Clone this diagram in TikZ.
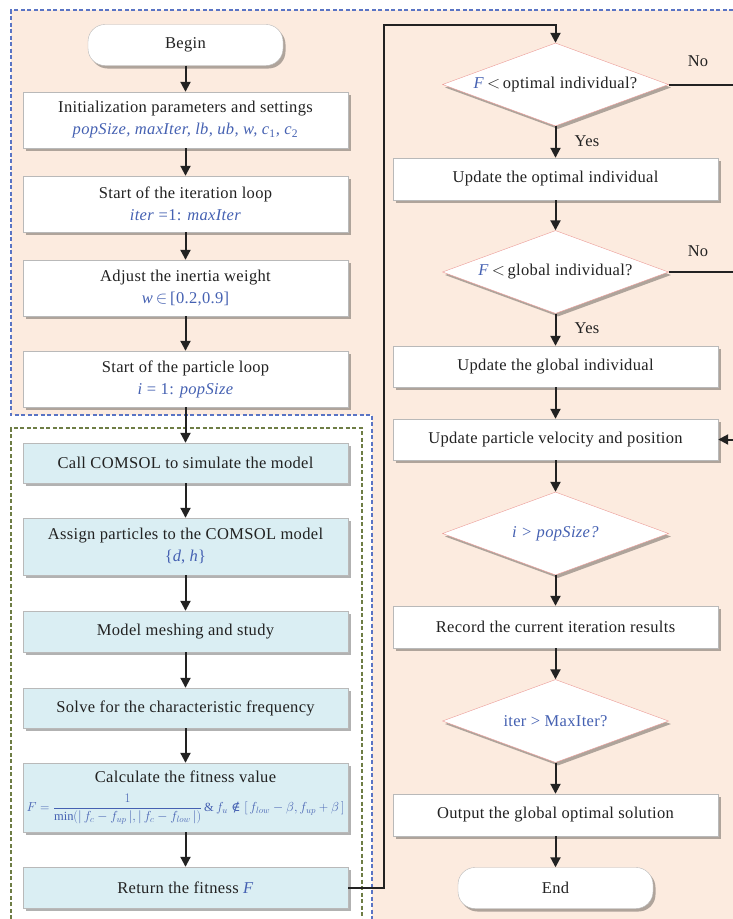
\documentclass[tikz,border=0pt]{standalone}
\usepackage{fontspec}
\setmainfont[LetterSpace=2]{Liberation Serif}
\newfontfamily\symfam{DejaVu Serif}
\usepackage{graphicx}
\usetikzlibrary{shapes.geometric,shadows,arrows.meta}
\definecolor{peach}{HTML}{FCEBDF}
\definecolor{tblue}{HTML}{4561B2}
\definecolor{dblue}{HTML}{5A74C4}
\definecolor{dgreen}{HTML}{6E7D45}
\definecolor{cyanbox}{HTML}{DAEEF3}
\definecolor{dpink}{HTML}{EC9A96}
\definecolor{txt}{HTML}{222222}
\begin{document}
\begin{tikzpicture}[x=1pt,y=-1pt,
  every node/.style={text=txt,font=\fontsize{16.5}{22}\selectfont},
  shad/.style={drop shadow={shadow xshift=2.5pt,shadow yshift=-3pt,fill=black,opacity=.3}},
  pbox/.style={draw=gray!55,fill=white,minimum width=325pt,inner sep=0pt,align=center,shad},
  cbox/.style={pbox,fill=cyanbox},
  term/.style={draw=gray!55,fill=white,rounded corners=17pt,minimum width=195pt,minimum height=41pt,inner sep=0pt,shad},
  dia/.style={diamond,draw=dpink,fill=white,minimum width=226pt,minimum height=83pt,inner sep=0pt,shad},
  arr/.style={draw=txt,line width=2pt,-{Triangle[width=10pt,length=10pt]}},
  ln/.style={draw=txt,line width=2pt},
  blu/.style={text=tblue}]
\useasboundingbox (0,0) rectangle (733,919);
\fill[white] (0,0) rectangle (733,919);
\fill[peach] (11,10) -- (733,10) -- (733,919) -- (372,919) -- (372,415) -- (11,415) -- cycle;
\draw[dblue,line width=1.2pt,dash pattern=on 4pt off 2.5pt] (733,10) -- (11,10) -- (11,415) -- (372,415) -- (372,919);
\draw[dgreen,line width=1.2pt,dash pattern=on 4pt off 2.5pt] (11,919) -- (11,428) -- (362,428) -- (362,919);

% left column
\node[term] (begin) at (185.5,45) {Begin};
\node[pbox,minimum height=56pt] (init) at (185.5,120) {Initialization parameters and settings\\ \color{tblue}\textit{popSize, maxIter, lb, ub, w, c}\textsubscript{1}\textit{, c}\textsubscript{2}};
\node[pbox,minimum height=56pt] (iter) at (185.5,204) {Start of the iteration loop\\ \color{tblue}\textit{iter} =1: \textit{maxIter}};
\node[pbox,minimum height=56pt] (adj) at (185.5,288) {Adjust the inertia weight\\ \color{tblue}\textit{w}\,$\in$\,[0.2,0.9]};
\node[pbox,minimum height=56pt] (ploop) at (185.5,379) {Start of the particle loop\\ \color{tblue}\textit{i} = 1: \textit{popSize}};
\node[cbox,minimum height=40pt] (call) at (185.5,463) {Call COMSOL to simulate the model};
\node[cbox,minimum height=57pt] (assign) at (185.5,546.5) {Assign particles to the COMSOL model\\ \color{tblue}\{\textit{d}, \textit{h}\}};
\node[cbox,minimum height=41pt] (mesh) at (185.5,631.5) {Model meshing and study};
\node[cbox,minimum height=40pt] (solve) at (185.5,708) {Solve for the characteristic frequency};
\node[cbox,minimum height=69pt] (calc) at (185.5,797.5) {Calculate the fitness value\\[7pt] \resizebox{318pt}{!}{\color{tblue}$\displaystyle F=\frac{1}{\min(|\,f_c-f_{up}\,|,|\,f_c-f_{low}\,|)}\,\&\,f_u\mathrel{\mbox{\symfam ∉}}[\,f_{low}-\beta, f_{up}+\beta\,]$}};
\node[cbox,minimum height=41pt] (ret) at (185.5,887.5) {Return the fitness \textcolor{tblue}{\textit{F}}};

% right column
\node[dia] (d1) at (555.5,84.5) {};
\node (d1t) at (d1.center) {\textcolor{tblue}{\textit{F}}\,$<$\,optimal individual?};
\node[pbox,minimum height=42pt] (uopt) at (555.5,179) {Update the optimal individual};
\node[dia] (d2) at (555.5,272) {};
\node (d2t) at (d2.center) {\textcolor{tblue}{\textit{F}}\,$<$\,global individual?};
\node[pbox,minimum height=41pt] (uglob) at (555.5,366.5) {Update the global individual};
\node[pbox,minimum height=41pt] (uvel) at (555.5,439.5) {Update particle velocity and position};
\node[dia] (d3) at (555.5,533.5) {};
\node[blu] (d3t) at (d3.center) {\textit{i > popSize?}};
\node[pbox,minimum height=42pt] (rec) at (555.5,627) {Record the current iteration results};
\node[dia] (d4) at (555.5,721) {};
\node[blu] (d4t) at (d4.center) {iter > MaxIter?};
\node[pbox,minimum height=42pt] (out) at (555.5,815) {Output the global optimal solution};
\node[term] (end) at (555.5,888) {End};

% labels
\node (no1) at (698,61) {No};
\node (no2) at (698,251) {No};
\node (yes1) at (587,141) {Yes};
\node (yes2) at (587,328) {Yes};

% coordinates
\coordinate (lpA) at (384,887.5);
\coordinate (lpB) at (384,25);
\coordinate (lpC) at (555.5,25);
\coordinate (r1) at (733,84.5);
\coordinate (r2) at (733,272);
\coordinate (r3) at (733,439.5);

% connectors
\draw[arr] (begin) -- (init);
\draw[arr] (init) -- (iter);
\draw[arr] (iter) -- (adj);
\draw[arr] (adj) -- (ploop);
\draw[arr] (ploop) -- (call);
\draw[arr] (call) -- (assign);
\draw[arr] (assign) -- (mesh);
\draw[arr] (mesh) -- (solve);
\draw[arr] (solve) -- (calc);
\draw[arr] (calc) -- (ret);
\draw[arr] (ret.east) -- (lpA) -- (lpB) -- (lpC) -- (d1.north);
\draw[arr] (d1.south) -- (uopt);
\draw[arr] (uopt) -- (d2.north);
\draw[arr] (d2.south) -- (uglob);
\draw[arr] (uglob) -- (uvel);
\draw[arr] (uvel) -- (d3.north);
\draw[arr] (d3.south) -- (rec);
\draw[arr] (rec) -- (d4.north);
\draw[arr] (d4.south) -- (out);
\draw[arr] (out) -- (end);
\draw[ln] (d1.east) -- (r1);
\draw[ln] (d2.east) -- (r2);
\draw[arr] (r3) -- (uvel.east);
\end{tikzpicture}
\end{document}
